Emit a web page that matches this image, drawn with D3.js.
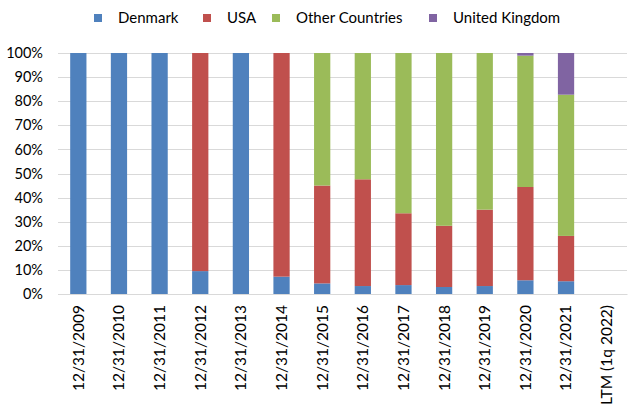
<!DOCTYPE html>
<html>
<head>
<meta charset="utf-8">
<script src="https://cdn.jsdelivr.net/npm/d3@7"></script>
<style>
  html, body { margin: 0; padding: 0; background: #fff; }
  svg { display: block; font-family: Lato, "Liberation Sans", sans-serif; }
</style>
</head>
<body>
<svg id="chart" width="640" height="410"></svg>
<script>
const categories = ["12/31/2009","12/31/2010","12/31/2011","12/31/2012","12/31/2013","12/31/2014","12/31/2015","12/31/2016","12/31/2017","12/31/2018","12/31/2019","12/31/2020","12/31/2021","LTM (1q 2022)"];
const seriesNames = ["Denmark","USA","Other Countries","United Kingdom"];
const denmark = [100,100,100,9.5,100,7.2,4.4,3.3,3.7,2.9,3.3,5.7,5.3,0];
const usa     = [0,0,0,90.5,0,92.8,40.6,44.3,29.8,25.4,31.7,38.7,18.8,0];
const other   = [0,0,0,0,0,0,55,52.4,66.5,71.7,65,54.5,58.6,0];
const uk      = [0,0,0,0,0,0,0,0,0,0,0,1.1,17.3,0];
const yTicks = [0,10,20,30,40,50,60,70,80,90,100];
const colors = ["#4F81BD","#C0504D","#9BBB59","#8064A2"];

const svg = d3.select("#chart");
const margin = {left: 58, right: 13, top: 53, bottom: 116};
const W = 640, H = 410;
const x = d3.scaleBand().domain(categories).range([margin.left, W - margin.right]).paddingInner(0.6).paddingOuter(0.3);
const y = d3.scaleLinear().domain([0,100]).range([H - margin.bottom, margin.top]);

const rows = categories.map((c,i) => ({cat: c, "Denmark": denmark[i], "USA": usa[i], "Other Countries": other[i], "United Kingdom": uk[i]}));
const stack = d3.stack().keys(seriesNames)(rows);

// gridlines
svg.append("g").selectAll("line").data(yTicks).join("line")
  .attr("x1", margin.left).attr("x2", W - margin.right)
  .attr("y1", d => Math.round(y(d)) + 0.5).attr("y2", d => Math.round(y(d)) + 0.5)
  .attr("stroke", "#D9D9D9").attr("stroke-width", 1);

// bars
svg.append("g").selectAll("g").data(stack).join("g")
  .attr("fill", (d,i) => colors[i])
  .selectAll("rect").data(d => d).join("rect")
  .attr("x", d => x(d.data.cat))
  .attr("width", x.bandwidth())
  .attr("y", d => y(d[1]))
  .attr("height", d => Math.max(0, y(d[0]) - y(d[1])));

// y axis labels
const yAxis = d3.axisLeft(y).tickValues(yTicks).tickFormat(d => d + "%").tickSize(0).tickPadding(0);
const ya = svg.append("g").attr("transform", `translate(43,0)`).call(yAxis);
ya.select(".domain").remove();
ya.selectAll("text").attr("font-size", 14.5).attr("fill", "#000").attr("font-family", "Lato, sans-serif");

// x axis labels
const xAxis = d3.axisBottom(x).tickSize(0).tickPadding(0);
const xa = svg.append("g").attr("transform", `translate(0,${H - margin.bottom})`).call(xAxis);
xa.select(".domain").attr("stroke", "#D9D9D9");
xa.selectAll("text")
  .attr("font-size", 15.5).attr("fill", "#000").attr("font-family", "Lato, sans-serif")
  .attr("text-anchor", "end")
  .attr("transform", "rotate(-90)")
  .attr("x", -11).attr("y", 0).attr("dy", "0.35em");

// legend
const legendX = [94, 203, 272, 429];
const lg = svg.append("g").selectAll("g").data(seriesNames).join("g")
  .attr("transform", (d,i) => `translate(${legendX[i]},0)`);
lg.append("rect").attr("x", 0).attr("y", 14).attr("width", 8).attr("height", 8).attr("fill", (d,i) => colors[i]);
lg.append("text").attr("x", 24).attr("y", 23).attr("font-size", 15).attr("fill", "#000").text(d => d);
</script>
</body>
</html>
